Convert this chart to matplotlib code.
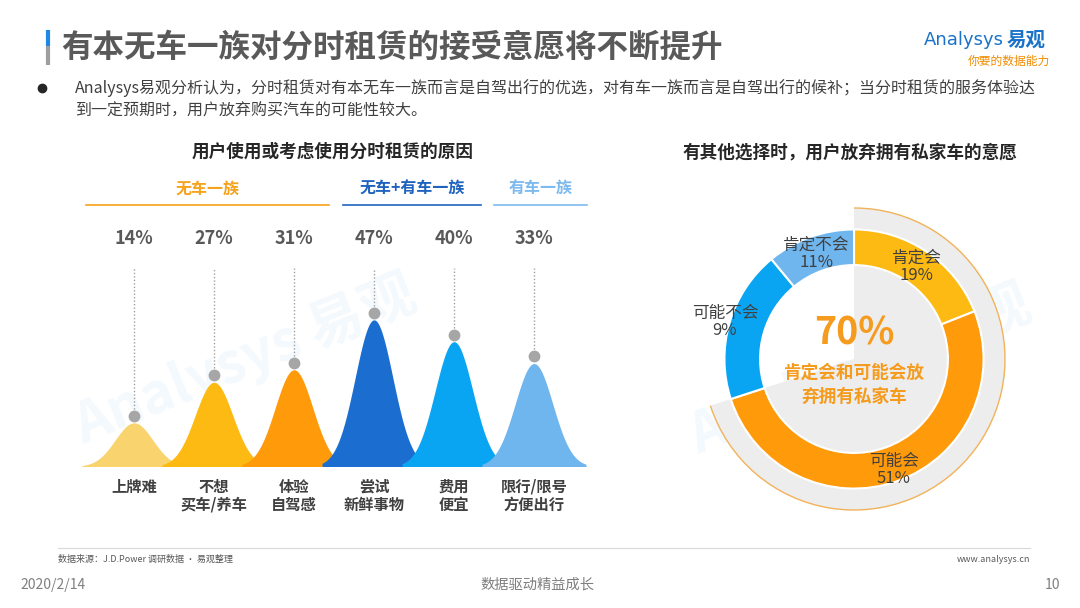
import numpy as np
import matplotlib
matplotlib.use('Agg')
import matplotlib.pyplot as plt
from matplotlib.patches import Arc

plt.rcParams['font.family'] = ['Noto Sans CJK SC', 'DejaVu Sans']

# left chart data
reasons = ['上牌难', '不想\n买车/养车', '体验\n自驾感', '尝试\n新鲜事物', '费用\n便宜', '限行/限号\n方便出行']
reason_pct = [14, 27, 31, 47, 40, 33]
peak_colors = ['#F9D36E', '#FDBA12', '#FF9A0A', '#1C6DD0', '#0AA5F2', '#6FB5EE']
groups = ['无车一族', '无车+有车一族', '有车一族']

# right chart data
answers = ['肯定会', '可能会', '可能不会', '肯定不会']
answer_share = [19, 51, 19, 11]          # slice sizes as drawn
answer_labels = ['19%', '51%', '9%', '11%']  # labels as printed
answer_colors = ['#FDBA12', '#FF9A0A', '#0AA5F2', '#6FB5EE']
give_up_total = 70

W, H = 1080, 608
fig = plt.figure(figsize=(W / 100, H / 100), dpi=100)
fig.patch.set_facecolor('white')

bg = fig.add_axes([0, 0, 1, 1])
bg.set_xlim(0, W)
bg.set_ylim(H, 0)
bg.axis('off')

dark = '#404040'
grey = '#595959'

# title
bg.plot([48, 48], [30, 46], color='#1E88E5', lw=3, solid_capstyle='butt')
bg.plot([48, 48], [46, 65], color='#9E9E9E', lw=3, solid_capstyle='butt')
bg.text(61, 48, '有本无车一族对分时租赁的接受意愿将不断提升', fontsize=22.7, fontweight='bold',
        color=grey, va='center', ha='left')

# logo
bg.text(924, 40, 'Analysys', fontsize=13, color='#1A73C8', va='center', family=['DejaVu Sans'])
bg.text(1007, 40, '易观', fontsize=14, color='#1A73C8', fontweight='bold', va='center')
bg.text(1050, 61, '你要的数据能力', fontsize=8.5, color='#F08C00', style='italic', va='center', ha='right')

# bullet text
bg.plot(42, 88, 'o', color='#262626', ms=6)
bg.text(75, 88, 'Analysys易观分析认为，分时租赁对有本无车一族而言是自驾出行的优选，对有车一族而言是自驾出行的候补；当分时租赁的服务体验达',
        fontsize=11.5, color=dark, va='center')
bg.text(75, 111, '到一定预期时，用户放弃购买汽车的可能性较大。', fontsize=11.5, color=dark, va='center')

# subtitles
bg.text(333, 152, '用户使用或考虑使用分时租赁的原因', fontsize=12.7, fontweight='bold', color='#262626',
        ha='center', va='center')
bg.text(850, 152, '有其他选择时，用户放弃拥有私家车的意愿', fontsize=12.7, fontweight='bold', color='#262626',
        ha='center', va='center')

# group headers
grp_x = [(86, 329), (343, 481), (494, 587)]
grp_col = ['#F7A21B', '#1E63BE', '#7DBAF0']
for name, (x0, x1), c in zip(groups, grp_x, grp_col):
    bg.text((x0 + x1) / 2, 189, name, fontsize=11.5, fontweight='bold', color=c, ha='center', va='center')
    bg.plot([x0, x1], [205, 205], color=c, lw=1.2)

# faint watermarks
bg.text(245, 360, 'Analysys 易观', fontsize=40, color='#1E88E5', alpha=0.05, rotation=22,
        ha='center', va='center', fontweight='bold')
bg.text(860, 370, 'Analysys 易观', fontsize=40, color='#1E88E5', alpha=0.05, rotation=22,
        ha='center', va='center', fontweight='bold')

# footer
bg.plot([58, 1030], [548, 548], color='#D9D9D9', lw=0.8)
bg.text(58, 559, '数据来源：J.D.Power 调研数据 · 易观整理', fontsize=6.5, color=grey, va='center')
bg.text(1030, 559, 'www.analysys.cn', fontsize=6.5, color=grey, va='center', ha='right')
bg.text(20, 585, '2020/2/14', fontsize=10, color='#7F7F7F', va='center')
bg.text(537, 585, '数据驱动精益成长', fontsize=10.3, color='#7F7F7F', va='center', ha='center')
bg.text(1060, 585, '10', fontsize=10, color='#7F7F7F', va='center', ha='right')

# left chart: bell peaks
x0_px, px_unit = 134, 80
base_px, py_unit = 466.5, 3.12
x_lo, x_hi = -0.7, 5.7
y_hi = 65
left_px = x0_px + x_lo * px_unit
right_px = x0_px + x_hi * px_unit
top_px = base_px - y_hi * py_unit
ax = fig.add_axes([left_px / W, 1 - base_px / H, (right_px - left_px) / W, (base_px - top_px) / H])
ax.set_xlim(x_lo, x_hi)
ax.set_ylim(0, y_hi)
ax.axis('off')
ax.patch.set_alpha(0)

for i, (v, c) in enumerate(zip(reason_pct, peak_colors)):
    xs = np.linspace(i - 0.65, i + 0.65, 200)
    ys = v * np.exp(-0.5 * ((xs - i) / 0.235) ** 2)
    ax.fill_between(xs, 0, ys, color=c, lw=0, zorder=2 + i)
    ax.plot([i, i], [v + 2.3, 63.6], color='#A0A0A0', lw=1, ls=(0, (1, 1.5)), zorder=1)
    ax.plot(i, v + 2.3, 'o', color='#A6A6A6', ms=8.5, mec='none', zorder=20)
    ax.text(i, 73.2, f'{v}%', fontsize=13, fontweight='bold', color=grey, ha='center', va='center',
            clip_on=False)
    ax.text(i, -4.0, reasons[i], fontsize=11, fontweight='bold', color=dark, ha='center', va='top',
            linespacing=1.15, clip_on=False)

# right chart: donut
unit = 151.0
half = 168
cx, cy = 854, 359
dx = fig.add_axes([(cx - half) / W, 1 - (cy + half) / H, 2 * half / W, 2 * half / H])
dx.axis('off')
dx.patch.set_alpha(0)

dx.pie([give_up_total, 100 - give_up_total], radius=1.0, startangle=90, counterclock=False,
       colors=['#EDEDED', (0, 0, 0, 0)], wedgeprops=dict(linewidth=0))
dx.add_patch(Arc((0, 0), 2.0, 2.0, theta1=90 - give_up_total * 3.6, theta2=90,
                 color='#F2B25A', lw=1))
dx.pie(answer_share, radius=0.858, startangle=90, counterclock=False, colors=answer_colors,
       wedgeprops=dict(width=0.236, edgecolor='white', linewidth=1.5))
lim = half / unit
dx.set_xlim(-lim, lim)
dx.set_ylim(-lim, lim)
dx.set_aspect('equal')

lab_r = [0.74, 0.78, 0.89, 0.74]
cum = np.cumsum([0] + answer_share)
for i, name in enumerate(answers):
    mid = (cum[i] + cum[i + 1]) / 2 / 100 * 2 * np.pi
    x = lab_r[i] * np.sin(mid)
    y = lab_r[i] * np.cos(mid)
    dx.text(x, y, f'{name}\n{answer_labels[i]}', fontsize=12, color=dark, ha='center', va='center',
            linespacing=1.0)

orange = '#F59B1E'
dx.text(0, 26 / unit, f'{give_up_total}%', fontsize=27, fontweight='bold', color=orange,
        ha='center', va='center')
dx.text(0, -26 / unit, '肯定会和可能会放\n弃拥有私家车', fontsize=12.7, fontweight='bold', color=orange,
        ha='center', va='center', linespacing=1.45)

fig.savefig('out.png', dpi=100, facecolor='white')
